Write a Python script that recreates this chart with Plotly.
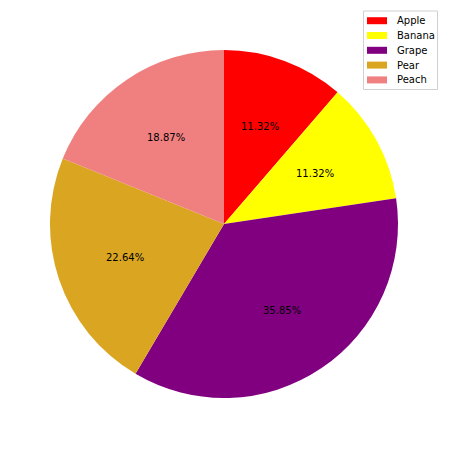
import math
import plotly.graph_objects as go

labels = ["Apple", "Banana", "Grape", "Pear", "Peach"]
values = [6, 6, 19, 12, 10]
colors = ["red", "yellow", "purple", "goldenrod", "lightcoral"]

W = H = 449
OFF = 8  # page body margin


def px(x):
    return (x - OFF) / W


def py(y):
    return 1 - (y - OFF) / H


x0, x1 = px(50), px(398)
y0, y1 = py(398), py(50)

fig = go.Figure(go.Pie(
    labels=labels, values=values, sort=False, direction="clockwise",
    marker=dict(colors=colors, line=dict(width=0)),
    textinfo="none", hoverinfo="label+percent",
    domain=dict(x=[x0, x1], y=[y0, y1]),
    showlegend=False,
))

total = sum(values)
cx, cy = (x0 + x1) / 2, (y0 + y1) / 2
r = (x1 - x0) / 2
cum = 0
anns = []
for v in values:
    mid = (cum + v / 2) / total * 2 * math.pi
    cum += v
    anns.append(dict(
        x=cx + 0.6 * r * math.sin(mid), y=cy + 0.6 * r * math.cos(mid),
        xref="paper", yref="paper", showarrow=False,
        xanchor="center", yanchor="middle",
        text=f"{v / total * 100:.2f}%",
        font=dict(family="DejaVu Sans", size=10, color="black"),
    ))

# custom legend (matplotlib style)
shapes = [dict(type="rect", xref="paper", yref="paper",
               x0=px(363.5), x1=px(437.5), y0=py(89.5), y1=py(11),
               line=dict(color="#d0d0d0", width=1), fillcolor="rgba(255,255,255,0.8)")]
row_y0 = 20.7
row_dy = 14.8
for i, (lab, col) in enumerate(zip(labels, colors)):
    yc = row_y0 + i * row_dy
    shapes.append(dict(type="rect", xref="paper", yref="paper",
                       x0=px(367), x1=px(387), y0=py(yc + 3.5), y1=py(yc - 3.5),
                       line=dict(width=0), fillcolor=col))
    anns.append(dict(x=px(395), y=py(yc), xref="paper", yref="paper",
                     xanchor="left", yanchor="middle", showarrow=False,
                     text=lab, font=dict(family="DejaVu Sans", size=10, color="black")))

fig.update_layout(
    width=W, height=H, margin=dict(l=0, r=0, t=0, b=0),
    paper_bgcolor="white", plot_bgcolor="white",
    annotations=anns, shapes=shapes,
    font=dict(family="DejaVu Sans"),
)
fig.write_html("out.html")
